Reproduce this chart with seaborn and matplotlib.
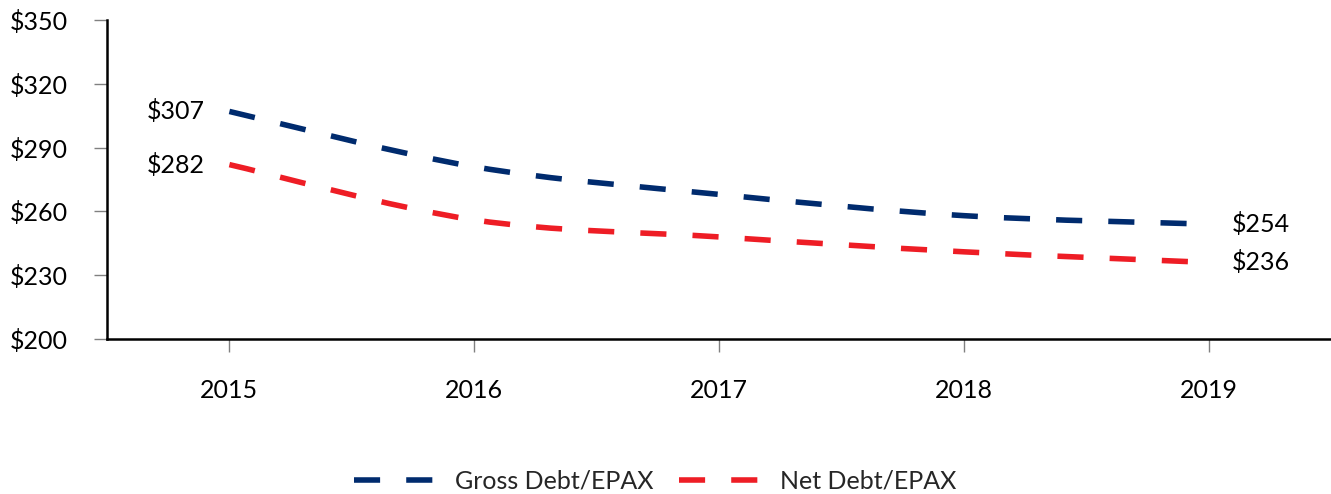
import numpy as np
import pandas as pd
import matplotlib
matplotlib.use("Agg")
import matplotlib.pyplot as plt
import seaborn as sns
from matplotlib.path import Path
from matplotlib.patches import PathPatch
from matplotlib.lines import Line2D

years = ["2015", "2016", "2017", "2018", "2019"]
gross = [307, 281, 268, 258, 254]
net = [282, 256, 248, 241, 236]
series_names = ["Gross Debt/EPAX", "Net Debt/EPAX"]
yticks = [200, 230, 260, 290, 320, 350]
colors = ["#002B6E", "#EE1D25"]

sns.set_theme(style="white")
plt.rcParams["font.family"] = ["Lato", "DejaVu Sans"]

pos = list(range(len(years)))
df = pd.DataFrame({
    "pos": pos * 2,
    "value": gross + net,
    "series": [series_names[0]] * len(years) + [series_names[1]] * len(years),
})

fig = plt.figure(figsize=(13.31, 4.94), dpi=100)
ax = fig.add_axes([107 / 1331, 1 - 339 / 494, 1 - 107 / 1331, (339 - 20) / 494])

sns.lineplot(data=df, x="pos", y="value", hue="series", palette=colors,
             ax=ax, legend=False)

LW = 4.0
DASH = (0, (4.7, 4.7))


def smooth_path(xs, ys):
    pts = np.column_stack([xs, ys]).astype(float)
    n = len(pts)
    verts = [pts[0]]
    codes = [Path.MOVETO]
    for i in range(n - 1):
        p0 = pts[max(i - 1, 0)]
        p1 = pts[i]
        p2 = pts[i + 1]
        p3 = pts[min(i + 2, n - 1)]
        c1 = p1 + (p2 - p0) / 6.0
        c2 = p2 - (p3 - p1) / 6.0
        verts += [c1, c2, p2]
        codes += [Path.CURVE4] * 3
    return Path(verts, codes)


for line in ax.lines:
    line.set_visible(False)

for vals, col in zip([gross, net], colors):
    patch = PathPatch(smooth_path(pos, vals), facecolor="none", edgecolor=col,
                      lw=LW, linestyle=DASH, capstyle="butt", zorder=3)
    ax.add_patch(patch)

# data labels
for vals in [gross, net]:
    ax.annotate(f"${vals[0]}", (pos[0], vals[0]), xytext=(-18, 0),
                textcoords="offset points", ha="right", va="center",
                fontsize=18, color="black")
    ax.annotate(f"${vals[-1]}", (pos[-1], vals[-1]), xytext=(17, 0),
                textcoords="offset points", ha="left", va="center",
                fontsize=18, color="black")

ax.set_xlim(-0.5, 4.5)
ax.set_ylim(200, 350)
ax.set_xticks(pos)
ax.set_xticklabels(years)
ax.set_yticks(yticks)
ax.set_yticklabels([f"${v}" for v in yticks])
ax.set_xlabel("")
ax.set_ylabel("")

for s in ["top", "right"]:
    ax.spines[s].set_visible(False)
for s in ["left", "bottom"]:
    ax.spines[s].set_color("black")
    ax.spines[s].set_linewidth(1.8)

ax.tick_params(axis="both", which="major", direction="out", length=9.5,
               width=1.0, color="#808080", labelsize=18, labelcolor="black",
               pad=19, left=True, bottom=True)

handles = [Line2D([0], [0], color=c, lw=LW, linestyle=DASH,
                  solid_capstyle="butt", dash_capstyle="butt") for c in colors]
fig.legend(handles, series_names, loc="center",
           bbox_to_anchor=(655 / 1331, 1 - 481 / 494), ncol=2, frameon=False,
           fontsize=18, handlelength=3.6, handletextpad=0.45,
           columnspacing=1.0)

fig.savefig("out.png", dpi=100)
